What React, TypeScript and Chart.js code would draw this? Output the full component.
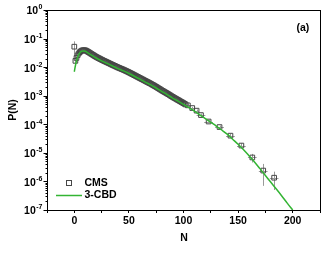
import React, { useEffect, useRef } from "react";
import { Chart, registerables } from "chart.js";

Chart.register(...registerables);

// ---- Data ----
const N_CURVE = [0, 1, 2, 3, 4, 5, 6, 7, 8, 9, 10, 12, 15, 20, 25, 30, 35, 40, 45, 50, 55, 60, 65, 70, 75, 80, 85, 90, 95, 100, 105, 110, 115, 120, 125, 130, 135, 140, 145, 150, 155, 160, 165, 170, 175, 180, 185, 190, 195, 200];
const P_CURVE = [6.9e-3, 1.12e-2, 1.66e-2, 2.19e-2, 2.75e-2, 3.15e-2, 3.45e-2, 3.6e-2, 3.7e-2, 3.7e-2, 3.6e-2, 3.25e-2, 2.75e-2, 2.09e-2, 1.66e-2, 1.35e-2, 1.1e-2, 8.9e-3, 7.4e-3, 6.0e-3, 4.8e-3, 3.8e-3, 3.0e-3, 2.4e-3, 1.86e-3, 1.41e-3, 1.1e-3, 8.3e-4, 6.5e-4, 5.0e-4, 3.8e-4, 2.9e-4, 2.14e-4, 1.58e-4, 1.17e-4, 8.7e-5, 6.3e-5, 4.5e-5, 3.0e-5, 2.0e-5, 1.29e-5, 7.9e-6, 4.8e-6, 2.8e-6, 1.62e-6, 9.3e-7, 5.4e-7, 3.1e-7, 1.74e-7, 1.0e-7];

const N_CMS = [
  0, 1, 2, 3, 4, 5, 6, 7, 8, 9,
  10, 11, 12, 13, 14, 15, 16, 17, 18, 19,
  20, 21, 22, 23, 24, 25, 26, 27, 28, 29,
  30, 31, 32, 33, 34, 35, 36, 37, 38, 39,
  40, 41, 42, 43, 44, 45, 46, 47, 48, 49,
  50, 51, 52, 53, 54, 55, 56, 57, 58, 59,
  60, 61, 62, 63, 64, 65, 66, 67, 68, 69,
  70, 71, 72, 73, 74, 75, 76, 77, 78, 79,
  80, 81, 82, 83, 84, 85, 86, 87, 88, 89,
  90, 91, 92, 93, 94, 95, 96, 97, 98, 99,
  100, 101, 102, 104, 108, 112, 116, 123, 133, 143, 153, 163, 173, 183,
];
const P_CMS = [
  5.2e-2, 1.66e-2, 2.1e-2, 2.6e-2, 3.0e-2, 3.35e-2, 3.6e-2, 3.8e-2, 3.9e-2, 3.9e-2,
  3.89e-2, 3.75e-2, 3.56e-2, 3.37e-2, 3.19e-2, 3.02e-2, 2.86e-2, 2.7e-2, 2.56e-2, 2.42e-2,
  2.29e-2, 2.19e-2, 2.09e-2, 2.0e-2, 1.91e-2, 1.82e-2, 1.75e-2, 1.67e-2, 1.61e-2, 1.54e-2,
  1.48e-2, 1.42e-2, 1.36e-2, 1.31e-2, 1.25e-2, 1.2e-2, 1.15e-2, 1.11e-2, 1.06e-2, 1.02e-2,
  9.77e-3, 9.42e-3, 9.08e-3, 8.75e-3, 8.43e-3, 8.13e-3, 7.8e-3, 7.48e-3, 7.18e-3, 6.89e-3,
  6.61e-3, 6.31e-3, 6.03e-3, 5.75e-3, 5.5e-3, 5.25e-3, 5.01e-3, 4.79e-3, 4.57e-3, 4.37e-3,
  4.17e-3, 3.98e-3, 3.8e-3, 3.63e-3, 3.47e-3, 3.31e-3, 3.16e-3, 3.02e-3, 2.88e-3, 2.75e-3,
  2.63e-3, 2.5e-3, 2.38e-3, 2.26e-3, 2.15e-3, 2.04e-3, 1.93e-3, 1.83e-3, 1.73e-3, 1.64e-3,
  1.55e-3, 1.47e-3, 1.4e-3, 1.33e-3, 1.26e-3, 1.2e-3, 1.14e-3, 1.08e-3, 1.02e-3, 9.64e-4,
  9.12e-4, 8.67e-4, 8.24e-4, 7.83e-4, 7.45e-4, 7.08e-4, 6.73e-4, 6.4e-4, 6.08e-4, 5.78e-4,
  5.5e-4, 5.2e-4, 4.92e-4, 4.6e-4, 3.7e-4, 3.0e-4, 2.1e-4, 1.25e-4, 8.0e-5, 4.0e-5, 1.8e-5, 6.9e-6, 2.4e-6, 1.35e-6,
];
// vertical (y) and horizontal (x) error bars, keyed by N
const YERR_N = [0, 1, 2, 104, 108, 112, 116, 123, 133, 143, 153, 163, 173, 183];
const YERR_V = [2.8e-2, 4e-3, 3e-3, 4e-5, 3.5e-5, 3e-5, 2.5e-5, 1.5e-5, 1.0e-5, 6e-6, 3.5e-6, 2.3e-6, 1.7e-6, 8.5e-7];
const XERR_N = [104, 108, 112, 116, 123, 133, 143, 153, 163, 173, 183];
const XERR_V = [2, 2, 2, 4, 4, 4, 4, 4, 4, 4, 4];

const X_TICK_LABELS = [0, 50, 100, 150, 200];
const Y_EXPONENTS = [0, -1, -2, -3, -4, -5, -6, -7];
const SERIES_NAMES = ["CMS", "3-CBD"];
const X_TITLE = "N";
const Y_TITLE = "P(N)";
const PANEL_LABEL = "(a)";

const GREEN = "#33b433";
const SQUARE = "#474747";
const FONT = "'Liberation Sans', Arial, sans-serif";

const decorPlugin = {
  id: "decor",
  beforeDatasetsDraw(chart: any) {
    const ctx = chart.ctx;
    const xs = chart.scales.x;
    const ys = chart.scales.y;
    const a = chart.chartArea;
    ctx.save();
    ctx.beginPath();
    ctx.rect(a.left, a.top, a.right - a.left, a.bottom - a.top);
    ctx.clip();
    ctx.strokeStyle = "#9a9a9a";
    ctx.lineWidth = 1;
    for (let i = 0; i < N_CMS.length; i++) {
      const n = N_CMS[i];
      const p = P_CMS[i];
      const px = xs.getPixelForValue(n);
      const py = ys.getPixelForValue(p);
      const yi = YERR_N.indexOf(n);
      if (yi >= 0) {
        const e = YERR_V[yi];
        const lo = Math.max(p - e, 1e-9);
        ctx.beginPath();
        ctx.moveTo(Math.round(px) + 0.5, ys.getPixelForValue(p + e));
        ctx.lineTo(Math.round(px) + 0.5, ys.getPixelForValue(lo));
        ctx.stroke();
      }
      const xi = XERR_N.indexOf(n);
      if (xi >= 0) {
        const xe = XERR_V[xi];
        ctx.beginPath();
        ctx.moveTo(xs.getPixelForValue(n - xe), Math.round(py) + 0.5);
        ctx.lineTo(xs.getPixelForValue(n + xe), Math.round(py) + 0.5);
        ctx.stroke();
      }
    }
    ctx.restore();
  },
  afterDraw(chart: any) {
    const ctx = chart.ctx;
    const ys = chart.scales.y;
    const a = chart.chartArea;
    ctx.save();
    // frame
    ctx.strokeStyle = "#000";
    ctx.lineWidth = 1;
    ctx.strokeRect(Math.round(a.left) + 0.5, Math.round(a.top) + 0.5, Math.round(a.right - a.left), Math.round(a.bottom - a.top));
    // y ticks (major + minor, outward)
    const ax = Math.round(a.left) + 0.5;
    for (const e of Y_EXPONENTS) {
      for (let m = 1; m <= 9; m++) {
        if (e === 0 && m > 1) break;
        const v = m * Math.pow(10, e);
        const y = Math.round(ys.getPixelForValue(v)) + 0.5;
        const len = m === 1 ? 4 : 2;
        ctx.beginPath();
        ctx.moveTo(ax - len, y);
        ctx.lineTo(ax, y);
        ctx.stroke();
      }
    }
    // y labels 10^e
    ctx.fillStyle = "#000";
    for (const e of Y_EXPONENTS) {
      const y = ys.getPixelForValue(Math.pow(10, e));
      const exp = String(e);
      ctx.font = `bold 7px ${FONT}`;
      const we = ctx.measureText(exp).width;
      ctx.font = `bold 10.5px ${FONT}`;
      const wb = ctx.measureText("10").width;
      const right = a.left - 4.5;
      ctx.textAlign = "left";
      ctx.textBaseline = "middle";
      ctx.fillText("10", right - we - wb - 0.5, y + 1.5);
      ctx.font = `bold 7px ${FONT}`;
      ctx.fillText(exp, right - we, y - 2.5);
    }
    // axis titles
    ctx.font = `bold 10.5px ${FONT}`;
    ctx.textAlign = "center";
    ctx.textBaseline = "middle";
    ctx.fillText(X_TITLE, (a.left + a.right) / 2 + 0.5, 238);
    ctx.save();
    ctx.translate(13.5, (a.top + a.bottom) / 2);
    ctx.rotate(-Math.PI / 2);
    ctx.fillText(Y_TITLE, 0, 0);
    ctx.restore();
    // panel label
    ctx.textAlign = "left";
    ctx.fillText(PANEL_LABEL, 296.5, 28.5);
    // legend
    ctx.strokeStyle = SQUARE;
    ctx.lineWidth = 1;
    ctx.strokeRect(66.5, 180.5, 5, 5);
    ctx.fillStyle = "#000";
    ctx.fillText(SERIES_NAMES[0], 84.5, 183);
    ctx.strokeStyle = GREEN;
    ctx.lineWidth = 1.5;
    ctx.beginPath();
    ctx.moveTo(56, 195.5);
    ctx.lineTo(82, 195.5);
    ctx.stroke();
    ctx.fillText(SERIES_NAMES[1], 84.5, 195.5);
    ctx.restore();
  },
};

export default function App() {
  const ref = useRef<HTMLCanvasElement | null>(null);
  useEffect(() => {
    if (!ref.current) return;
    const chart = new Chart(ref.current, {
      type: "scatter",
      data: {
        datasets: [
          {
            label: SERIES_NAMES[0],
            data: N_CMS.map((n, i) => ({ x: n, y: P_CMS[i] })),
            pointStyle: "rect",
            pointRadius: 3.3,
            borderColor: SQUARE,
            backgroundColor: "rgba(255,255,255,0)",
            borderWidth: 1,
            showLine: false,
            order: 2,
          },
          {
            type: "line",
            label: SERIES_NAMES[1],
            data: N_CURVE.map((n, i) => ({ x: n, y: P_CURVE[i] })),
            borderColor: GREEN,
            borderWidth: 1.5,
            pointRadius: 0,
            fill: false,
            tension: 0.4,
            cubicInterpolationMode: "monotone",
            order: 1,
          } as any,
        ],
      },
      options: {
        animation: false,
        responsive: false,
        events: [],
        layout: { padding: { top: 10, right: 15, left: 0, bottom: 0 } },
        plugins: { legend: { display: false }, tooltip: { enabled: false } },
        scales: {
          x: {
            type: "linear",
            min: -25,
            max: 225,
            afterFit: (s: any) => {
              s.height = 56;
            },
            afterBuildTicks: (s: any) => {
              const t = [];
              for (let v = -25; v <= 225; v += 25) t.push({ value: v });
              s.ticks = t;
            },
            ticks: {
              autoSkip: false,
              maxRotation: 0,
              padding: 2,
              color: "#000",
              font: { family: FONT, size: 10.5, weight: "bold" },
              callback: (v: any) => (X_TICK_LABELS.includes(Number(v)) ? String(v) : ""),
            },
            grid: { display: true, drawOnChartArea: false, drawTicks: true, tickLength: 3, color: "#000" },
            border: { display: true, color: "#000" },
          },
          y: {
            type: "logarithmic",
            min: 1e-7,
            max: 1,
            afterFit: (s: any) => {
              s.width = 47;
            },
            ticks: { display: false },
            grid: { display: false },
            border: { display: true, color: "#000" },
          },
        },
      } as any,
      plugins: [decorPlugin],
    });
    return () => chart.destroy();
  }, []);
  return (
    <div style={{ position: "absolute", left: 0, top: 0, width: 335, height: 266, background: "#fff" }}>
      <canvas ref={ref} width={335} height={266} style={{ display: "block", width: 335, height: 266 }} />
    </div>
  );
}
